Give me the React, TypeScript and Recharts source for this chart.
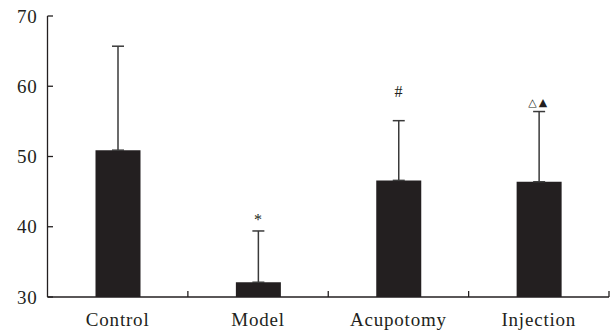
import React from "react";
import {
  Bar,
  ComposedChart,
  ErrorBar,
  Scatter,
  XAxis,
  YAxis,
} from "recharts";

// values
const categories = ["Control", "Model", "Acupotomy", "Injection"];
const means = [50.9, 32.1, 46.6, 46.4];
const sdUp = [14.8, 7.3, 8.5, 10.0];
const marks = ["", "*", "#", "△▲"];
const markAt = [null, 41.0, 59.2, 57.8];
const yTicks = [30, 40, 50, 60, 70];

const data = categories.map((name, i) => ({
  name,
  mean: means[i],
  err: [0, sdUp[i]],
  markAt: markAt[i],
  mark: marks[i],
}));

const INK = "#231f20";
const FONT = "'Liberation Serif', 'Times New Roman', serif";

const YTick = ({ x, y, payload }: any) => (
  <g>
    <text
      x={x}
      y={y}
      dy="0.35em"
      textAnchor="end"
      fill={INK}
      fontFamily={FONT}
      fontSize={19}
      letterSpacing={0.8}
    >
      {payload.value}
    </text>
    <line x1={x + 10} x2={x + 15.5} y1={y} y2={y} stroke={INK} strokeWidth={1.3} />
  </g>
);

const XTick = ({ x, y, payload }: any) => {
  const half = payload.offset ?? 70.2;
  return (
    <g>
      <text
        x={x}
        y={y + 29}
        textAnchor="middle"
        fill={INK}
        fontFamily={FONT}
        fontSize={19}
        letterSpacing={0.8}
      >
        {payload.value}
      </text>
      <line
        x1={x + half}
        x2={x + half}
        y1={y}
        y2={y - 6}
        stroke={INK}
        strokeWidth={1.3}
      />
    </g>
  );
};

const MarkShape = (p: any) => {
  const m = p.payload.mark;
  if (!m) return null;
  const tri = m.includes("△");
  return (
    <text
      x={p.cx}
      y={p.cy}
      dy="0.35em"
      textAnchor="middle"
      fill={INK}
      stroke="none"
      fontFamily={tri ? "'DejaVu Sans', sans-serif" : FONT}
      fontSize={tri ? 11 : 16}
      letterSpacing={tri ? 2 : 0}
    >
      {m}
    </text>
  );
};

export default function App() {
  return (
    <div style={{ position: "absolute", left: 0, top: 0, width: 613, height: 334, background: "#fff" }}>
      <ComposedChart
        width={613}
        height={334}
        data={data}
        margin={{ top: 16, right: 4, left: 0, bottom: 0 }}
      >
        <XAxis
          dataKey="name"
          height={37}
          stroke={INK}
          strokeWidth={1.3}
          tickLine={false}
          tickSize={0}
          tickMargin={0}
          tick={<XTick />}
          interval={0}
        />
        <YAxis
          width={47.5}
          domain={[30, 70]}
          ticks={yTicks}
          stroke={INK}
          strokeWidth={1.3}
          tickLine={false}
          tickSize={0}
          tickMargin={10}
          tick={<YTick />}
          interval={0}
        />
        <Bar dataKey="mean" fill={INK} barSize={45} isAnimationActive={false}>
          <ErrorBar
            dataKey="err"
            width={6}
            stroke="#3a3a3a"
            strokeWidth={1.5}
            direction="y"
          />
        </Bar>
        <Scatter
          dataKey="markAt"
          fill={INK}
          shape={<MarkShape />}
          isAnimationActive={false}
        />
      </ComposedChart>
    </div>
  );
}
